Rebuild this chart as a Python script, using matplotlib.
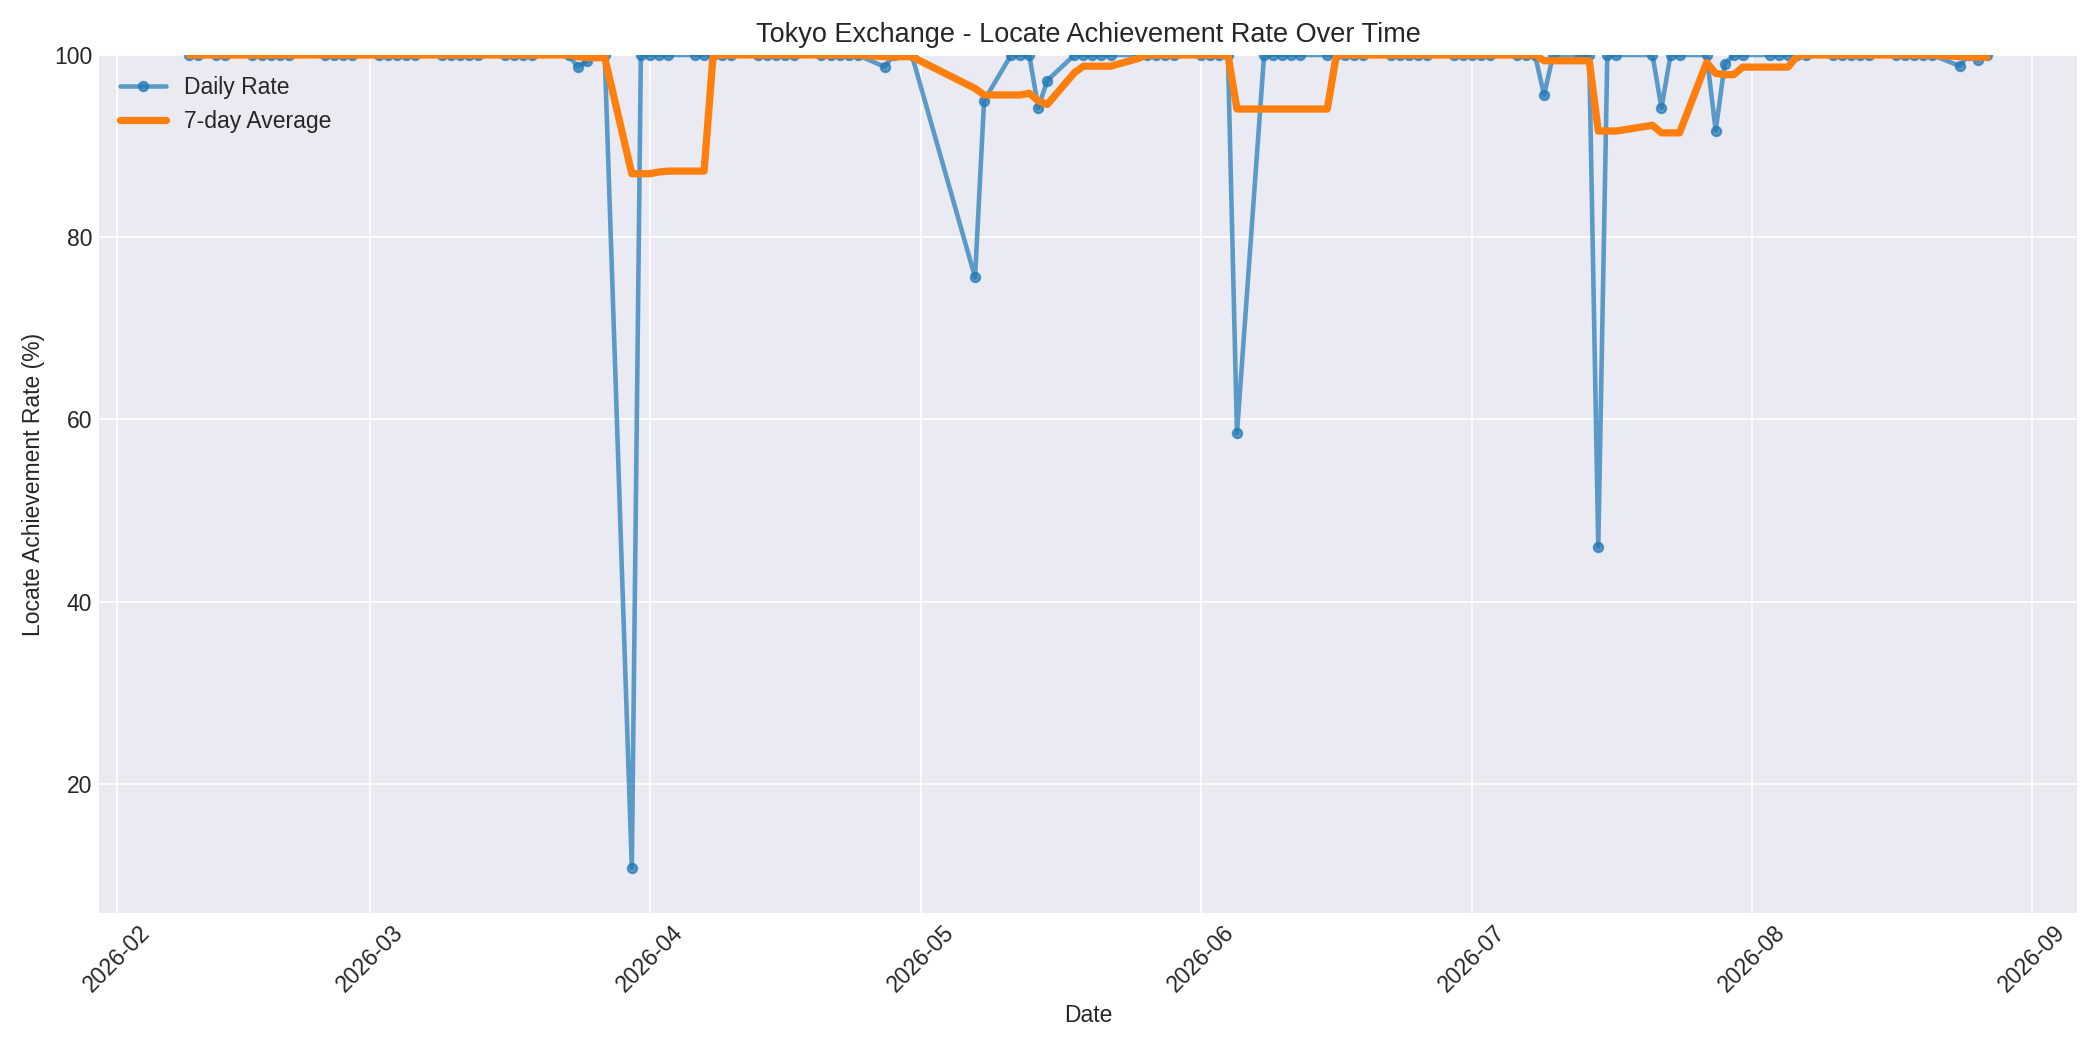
import matplotlib
matplotlib.use("Agg")
import matplotlib.pyplot as plt
import matplotlib.dates as mdates
import pandas as pd

plt.style.use("seaborn-v0_8-darkgrid")

feb = [9,10,12,13,16,17,18,19,20,24,25,26,27]
mar = [2,3,4,5,6,9,10,11,12,13,16,17,18,19,23,24,25,26,27,30,31]
apr = [1,2,3,6,7,8,9,10,13,14,15,16,17,20,21,22,23,24,27,28,30]
may = [7,8,11,12,13,14,15,18,19,20,21,22,25,26,27,28,29]
jun = [1,2,3,4,5,8,9,10,11,12,15,16,17,18,19,22,23,24,25,26,29,30]
jul = [1,2,3,6,7,8,9,10,13,14,15,16,17,21,22,23,24,27,28,29,30,31]
aug = [3,4,5,6,7,10,11,12,13,14,17,18,19,20,21,24,25,26,27]

special = {"2026-03-24": 98.7, "2026-03-25": 99.3, "2026-03-30": 10.8,
           "2026-04-27": 98.7, "2026-05-07": 75.6, "2026-05-08": 95.0,
           "2026-05-14": 94.2, "2026-05-15": 97.2, "2026-06-05": 58.5,
           "2026-07-09": 95.6, "2026-07-15": 46.0, "2026-07-22": 94.2,
           "2026-07-28": 91.7, "2026-07-29": 99.0, "2026-08-24": 98.8,
           "2026-08-26": 99.5}

dates = []
for m, days in zip(range(2, 9), [feb, mar, apr, may, jun, jul, aug]):
    for d in days:
        dates.append(f"2026-{m:02d}-{d:02d}")
rates = [special.get(d, 100.0) for d in dates]

s = pd.Series(rates, index=pd.to_datetime(dates))
avg = s.rolling(7, min_periods=1).mean()

fig, ax = plt.subplots(figsize=(14, 7), dpi=150)
ax.plot(s.index, s.values, marker="o", markersize=4.5, linewidth=2.2,
        alpha=0.7, color="#1f77b4", label="Daily Rate")
ax.plot(avg.index, avg.values, linewidth=3.5, color="#ff7f0e", label="7-day Average")
ax.set_ylim(min(rates) - 5, 100)
ax.set_title("Tokyo Exchange - Locate Achievement Rate Over Time", fontsize=13)
ax.set_xlabel("Date", fontsize=11)
ax.set_ylabel("Locate Achievement Rate (%)", fontsize=11)
ax.xaxis.set_major_locator(mdates.MonthLocator())
ax.xaxis.set_major_formatter(mdates.DateFormatter("%Y-%m"))
plt.setp(ax.get_xticklabels(), rotation=45, fontsize=11)
plt.setp(ax.get_yticklabels(), fontsize=11)
ax.legend(loc="upper left", fontsize=11)
fig.tight_layout()
fig.savefig("out.png")
